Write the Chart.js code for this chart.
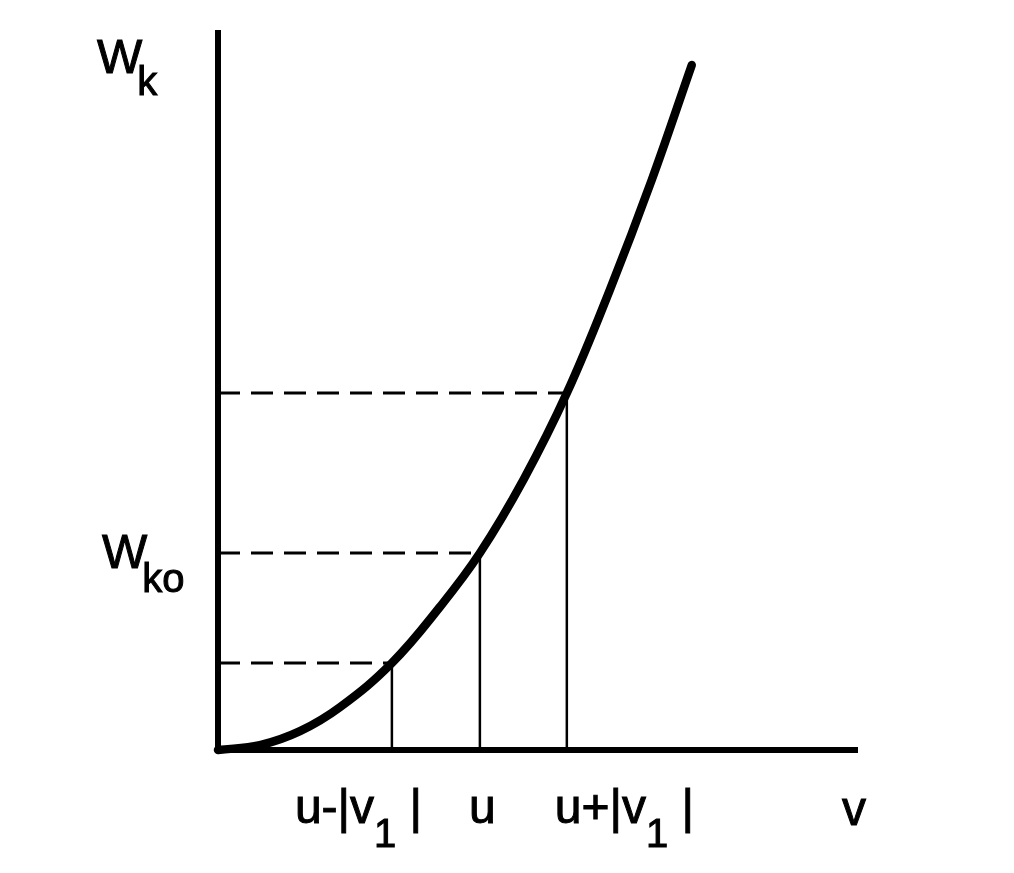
<!DOCTYPE html>
<html>
<head>
<meta charset="utf-8">
<script src="https://cdn.jsdelivr.net/npm/chart.js@4.4.1/dist/chart.umd.min.js"></script>
<style>
  html, body { margin: 0; padding: 0; background: #fff; }
  #wrap { width: 1014px; height: 873px; }
</style>
</head>
<body>
<div id="wrap"><canvas id="chart" width="1014" height="873"></canvas></div>
<script>
// W_k(v) curve (v in units of u, W in units of W_ko)
const curveV = [0, 0.16, 0.313, 0.466, 0.664, 0.847, 1.0, 1.168, 1.332, 1.496, 1.656, 1.809]
const curveW = [0, 0.025, 0.096, 0.218, 0.442, 0.726, 1.0, 1.376, 1.812, 2.335, 2.893, 3.477]

// marked points: u-|v1|, u, u+|v1|
const markV = [0.664, 1.0, 1.332]
const markW = [0.442, 1.0, 1.812]
const markLabels = [['u-|v', '1', ' |'], ['u', '', ''], ['u+|v', '1', ' |']]

const axisMaxV = 2.44
const axisMaxW = 3.64
const xAxisLabel = 'v'
const yAxisLabel = ['W', 'k']
const yMarkLabel = ['W', 'ko']

const mainFont = '48px "Liberation Sans", Arial, sans-serif'
const subFont = '40px "Liberation Sans", Arial, sans-serif'
const labelShift = [-97, -11, -12]

/* text a bit heavier, like the scanned original */
function put(ctx, s, x, y) {
    ctx.fillText(s, x, y)
    ctx.strokeText(s, x, y)
}

/* main text + subscript + tail, left aligned */
function drawSub(ctx, parts, x, y, kern, subDrop) {
    ctx.font = mainFont
    put(ctx, parts[0], x, y)
    x += ctx.measureText(parts[0]).width - kern
    if (parts[1]) {
        ctx.font = subFont
        put(ctx, parts[1], x, y + subDrop)
        x += ctx.measureText(parts[1]).width
    }
    if (parts[2]) {
        ctx.font = mainFont
        put(ctx, parts[2], x, y)
    }
}

const labelPlugin = {
    id: 'axisLabels',
    afterDraw(chart) {
        const ctx = chart.ctx
        const xs = chart.scales.x
        const ys = chart.scales.y
        ctx.save()
        ctx.fillStyle = '#000'
        ctx.strokeStyle = '#000'
        ctx.lineWidth = 1
        ctx.textAlign = 'left'
        ctx.textBaseline = 'alphabetic'
        markLabels.forEach((parts, i) => {
            drawSub(ctx, parts, xs.getPixelForValue(markV[i]) + labelShift[i], xs.top + 73, 0, 24)
        })
        drawSub(ctx, [xAxisLabel, '', ''], xs.right - 15, xs.top + 75, 0, 0)
        drawSub(ctx, yAxisLabel, ys.right - 121, ys.top + 40, 5, 22)
        drawSub(ctx, yMarkLabel, ys.right - 116, ys.getPixelForValue(markW[1]) + 15, 5, 24)
        ctx.restore()
    }
}

const datasets = [{
    data: curveV.map((v, i) => ({ x: v, y: curveW[i] })),
    borderColor: '#000',
    borderWidth: 8.5,
    borderCapStyle: 'round',
    pointRadius: 0,
    tension: 0.4
}]

markV.forEach((v, i) => {
    // dashed level line from the W axis to the curve
    datasets.push({
        data: [{ x: 0, y: markW[i] }, { x: v, y: markW[i] }],
        borderColor: '#000',
        borderWidth: 3,
        borderDash: [22, 11],
        pointRadius: 0
    })
    // solid drop line to the v axis
    datasets.push({
        data: [{ x: v, y: 0 }, { x: v, y: markW[i] }],
        borderColor: '#000',
        borderWidth: 2.5,
        pointRadius: 0
    })
})

const axisOpts = (max) => ({
    type: 'linear',
    min: 0,
    max: max,
    grid: { display: false, drawTicks: false },
    ticks: { display: false },
    border: { display: true, color: '#000', width: 6 }
})

new Chart(document.getElementById('chart'), {
    type: 'line',
    data: { datasets: datasets },
    options: {
        responsive: false,
        animation: false,
        clip: false,
        layout: { padding: { left: 218, right: 157, top: 33, bottom: 123 } },
        plugins: {
            legend: { display: false },
            tooltip: { enabled: false }
        },
        scales: {
            x: axisOpts(axisMaxV),
            y: axisOpts(axisMaxW)
        }
    },
    plugins: [labelPlugin]
})
</script>
</body>
</html>
